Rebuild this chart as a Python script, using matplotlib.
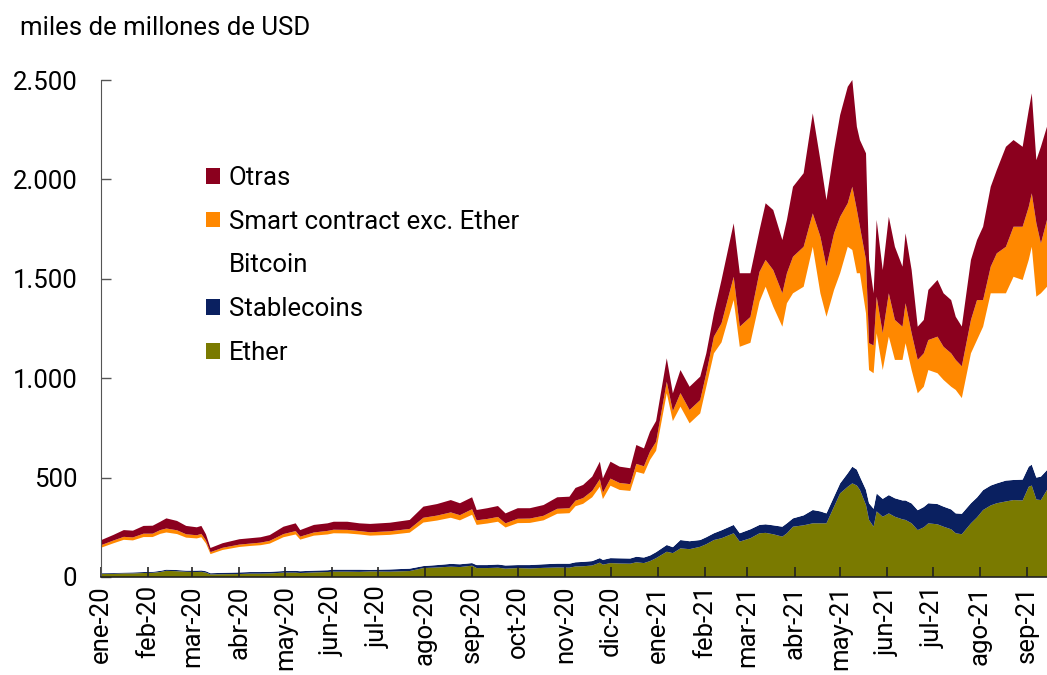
import matplotlib
matplotlib.use("Agg")
import matplotlib.pyplot as plt
import matplotlib.dates as mdates
from matplotlib.patches import Patch
from matplotlib.ticker import FuncFormatter
import pandas as pd

plt.rcParams['font.family'] = ['Roboto', 'DejaVu Sans']

# fechas (lecturas aproximadas del gráfico)
fechas = [
    "2020-01-01", "2020-01-09", "2020-01-16", "2020-01-22", "2020-01-29", "2020-02-04",
    "2020-02-09", "2020-02-13", "2020-02-20", "2020-02-26", "2020-03-04", "2020-03-07",
    "2020-03-10", "2020-03-13", "2020-03-21", "2020-04-01", "2020-04-08", "2020-04-15",
    "2020-04-21", "2020-04-30", "2020-05-08", "2020-05-11", "2020-05-20", "2020-05-29",
    "2020-06-02", "2020-06-11", "2020-06-19", "2020-06-26", "2020-07-09", "2020-07-22",
    "2020-07-31", "2020-08-09", "2020-08-18", "2020-08-24", "2020-09-01", "2020-09-04",
    "2020-09-11", "2020-09-18", "2020-09-23", "2020-10-01", "2020-10-09", "2020-10-18",
    "2020-10-27", "2020-11-04", "2020-11-08", "2020-11-13", "2020-11-19", "2020-11-24",
    "2020-11-26", "2020-12-01", "2020-12-07", "2020-12-14", "2020-12-18", "2020-12-23",
    "2020-12-27", "2020-12-31", "2021-01-07", "2021-01-11", "2021-01-16", "2021-01-22",
    "2021-01-29", "2021-02-02", "2021-02-07", "2021-02-12", "2021-02-20", "2021-02-24",
    "2021-03-03", "2021-03-09", "2021-03-13", "2021-03-18", "2021-03-24", "2021-03-27",
    "2021-03-31", "2021-04-07", "2021-04-13", "2021-04-18", "2021-04-22", "2021-04-27",
    "2021-05-01", "2021-05-06", "2021-05-09", "2021-05-12", "2021-05-14", "2021-05-18",
    "2021-05-20", "2021-05-23", "2021-05-25", "2021-05-29", "2021-06-02", "2021-06-06",
    "2021-06-11", "2021-06-13", "2021-06-17", "2021-06-21", "2021-06-25", "2021-06-28",
    "2021-07-04", "2021-07-08", "2021-07-13", "2021-07-16", "2021-07-20", "2021-07-26",
    "2021-07-30", "2021-08-03", "2021-08-08", "2021-08-12", "2021-08-18", "2021-08-23",
    "2021-08-29", "2021-09-02", "2021-09-04", "2021-09-07", "2021-09-10", "2021-09-14",
]

ether = [
    15, 16, 18, 18, 20, 21, 25, 31, 29, 26, 25, 26,
    22, 13, 14, 15, 17, 17, 18, 22, 22, 20, 23, 25,
    27, 27, 26, 28, 27, 30, 45, 48, 52, 50, 57, 45,
    45, 47, 42, 45, 43, 46, 48, 47, 53, 54, 58, 72,
    62, 70, 68, 67, 74, 70, 80, 95, 127, 120, 144, 140,
    152, 165, 186, 195, 220, 178, 195, 220, 222, 215, 203, 220,
    253, 260, 270, 270, 270, 354, 421, 454, 471, 460, 438, 362,
    287, 253, 330, 303, 320, 303, 290, 287, 270, 236, 250, 270,
    265, 253, 240, 220, 215, 270, 300, 337, 360, 371, 380, 387,
    385, 454, 460, 390, 387, 438,
]

stablecoins = [
    4, 4, 4, 5, 5, 5, 6, 6, 6, 6, 7, 7,
    7, 6, 7, 8, 8, 8, 8, 8, 9, 9, 9, 9,
    10, 10, 11, 8, 11, 12, 10, 12, 14, 14, 13, 15,
    15, 16, 16, 15, 17, 18, 19, 20, 21, 22, 22, 23,
    24, 25, 26, 26, 28, 28, 28, 30, 34, 30, 42, 40,
    34, 35, 34, 40, 42, 42, 45, 42, 43, 45, 50, 50,
    42, 50, 67, 60, 50, 50, 50, 68, 84, 80, 67, 76,
    84, 90, 90, 90, 92, 93, 95, 98, 100, 100, 102, 101,
    102, 101, 100, 100, 103, 101, 100, 100, 100, 100, 105, 101,
    105, 101, 105, 110, 118, 100,
]

bitcoin = [
    128, 149, 165, 161, 176, 175, 186, 187, 181, 166, 162, 167,
    140, 96, 115, 128, 131, 135, 142, 170, 183, 159, 176, 180,
    183, 182, 177, 172, 174, 181, 219, 224, 232, 221, 243, 202,
    209, 215, 191, 211, 212, 221, 251, 254, 282, 292, 321, 359,
    306, 364, 344, 340, 427, 421, 481, 510, 763, 634, 671, 593,
    637, 757, 905, 945, 1131, 938, 938, 1123, 1195, 1100, 1006, 1107,
    1132, 1150, 1324, 1097, 989, 1040, 1057, 1139, 1090, 988, 1023, 888,
    670, 682, 806, 648, 797, 696, 707, 791, 671, 588, 605, 670,
    658, 637, 617, 621, 582, 754, 792, 822, 967, 956, 942, 1022,
    1004, 1040, 1096, 910, 922, 922,
]

smart_contract = [
    13, 14, 15, 15, 17, 17, 19, 20, 19, 17, 16, 17,
    15, 10, 11, 12, 12, 13, 14, 16, 17, 15, 16, 18,
    18, 18, 17, 17, 18, 19, 24, 25, 27, 26, 28, 23,
    23, 24, 21, 22, 22, 23, 25, 25, 28, 29, 32, 38,
    32, 36, 35, 34, 40, 38, 42, 45, 58, 50, 68, 67,
    67, 68, 84, 96, 117, 101, 130, 150, 135, 184, 168, 151,
    184, 201, 168, 285, 252, 285, 284, 219, 318, 318, 234, 269,
    135, 140, 184, 185, 218, 201, 167, 201, 185, 168, 168, 151,
    184, 167, 168, 151, 160, 168, 201, 134, 134, 201, 234, 252,
    268, 267, 269, 370, 251, 336,
]

otras = [
    25, 28, 34, 34, 39, 40, 42, 51, 47, 42, 40, 40,
    31, 21, 23, 27, 27, 27, 29, 37, 39, 33, 38, 38,
    40, 41, 39, 42, 43, 45, 56, 58, 62, 60, 60, 52,
    54, 55, 50, 53, 52, 54, 58, 58, 64, 66, 72, 88,
    72, 85, 82, 80, 95, 90, 100, 105, 118, 90, 116, 117,
    118, 100, 117, 218, 269, 269, 220, 210, 285, 302, 268, 268,
    352, 370, 503, 385, 335, 419, 512, 586, 537, 419, 436, 536,
    419, 262, 386, 318, 385, 368, 302, 352, 318, 167, 168, 252,
    285, 269, 268, 217, 200, 302, 302, 369, 402, 419, 503, 436,
    402, 487, 503, 317, 486, 469,
]

series_labels = ["Ether", "Stablecoins", "Bitcoin", "Smart contract exc. Ether", "Otras"]
series_colors = ["#7a7a00", "#0a2060", "#ffffff", "#ff8800", "#8b001e"]

x = pd.to_datetime(fechas)

fig = plt.figure(figsize=(10.47, 6.75), dpi=100)
ax = fig.add_axes([101 / 1047, 98 / 675, 946 / 1047, 497 / 675])

ax.stackplot(x, ether, stablecoins, bitcoin, smart_contract, otras,
             colors=series_colors, linewidth=0)

ax.set_xlim(pd.Timestamp("2020-01-01"), pd.Timestamp("2021-09-14"))
ax.set_ylim(0, 2500)
ax.set_yticks([0, 500, 1000, 1500, 2000, 2500])
ax.yaxis.set_major_formatter(FuncFormatter(lambda v, p: f"{int(v):,}".replace(",", ".")))

meses = ["ene", "feb", "mar", "abr", "may", "jun", "jul", "ago", "sep", "oct", "nov", "dic"]
ax.xaxis.set_major_locator(mdates.MonthLocator())
ax.xaxis.set_major_formatter(FuncFormatter(
    lambda v, p: f"{meses[mdates.num2date(v).month - 1]}-{mdates.num2date(v).strftime('%y')}"))

fs = 18.5
ax.tick_params(axis="x", direction="in", length=7, width=1.2, pad=6,
               labelsize=fs, labelrotation=90, color="#222222")
ax.tick_params(axis="y", direction="in", length=7, width=1, pad=17, labelsize=fs,
               color="#555555")
for lbl in ax.get_xticklabels():
    lbl.set_verticalalignment("top")

ax.spines["top"].set_visible(False)
ax.spines["right"].set_visible(False)
ax.spines["left"].set_color("#555555")
ax.spines["bottom"].set_color("#222222")
ax.spines["bottom"].set_linewidth(1.2)

handles = [Patch(facecolor=c, edgecolor="none") for c in series_colors[::-1]]
ax.legend(handles, series_labels[::-1], loc="upper left", bbox_to_anchor=(0.097, 0.853),
          frameon=False, fontsize=fs, handlelength=0.55, handleheight=0.55,
          handletextpad=0.35, labelspacing=0.77, borderpad=0)

fig.text(20 / 1047, 1 - 28 / 675, "miles de millones de USD", fontsize=fs, va="center", ha="left")

fig.savefig("out.png", dpi=100)
